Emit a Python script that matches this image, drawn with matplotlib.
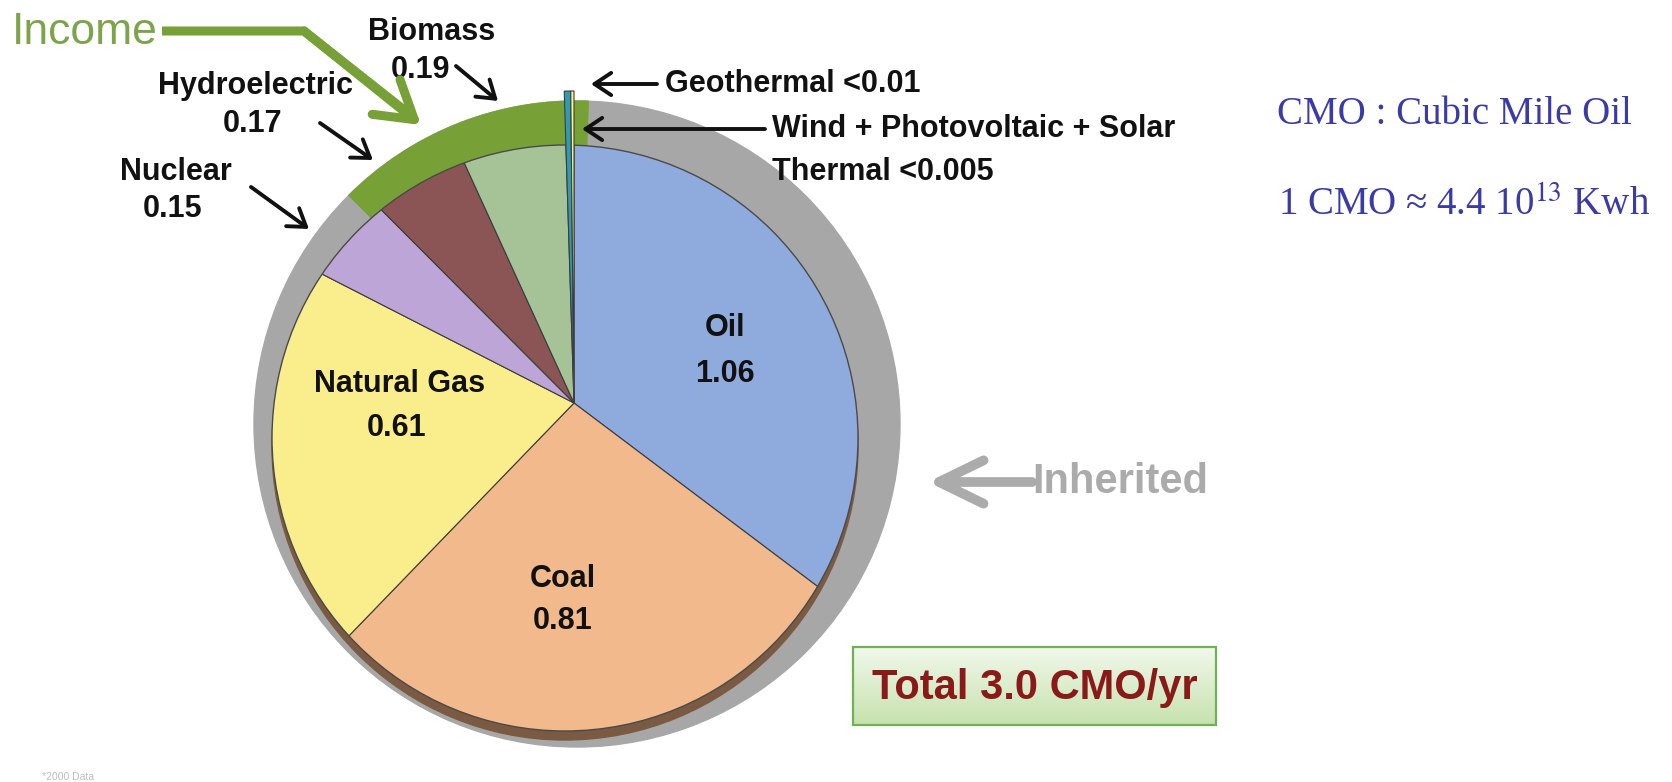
import matplotlib
matplotlib.use('Agg')
import matplotlib.pyplot as plt
from matplotlib.patches import Circle, Wedge, Rectangle
from matplotlib.colors import LinearSegmentedColormap
import numpy as np

# world primary energy, cubic miles of oil per year (2000)
sources = ['Oil', 'Coal', 'Natural Gas', 'Nuclear', 'Hydroelectric', 'Biomass',
           'Geothermal', 'Wind + Photovoltaic + Solar Thermal']
cmo = [1.06, 0.81, 0.61, 0.15, 0.17, 0.19, 0.01, 0.005]
cmo_labels = ['1.06', '0.81', '0.61', '0.15', '0.17', '0.19', '<0.01', '<0.005']
income = [False, False, False, False, True, True, True, True]
colors = ['#8faadc', '#f1b98c', '#faee8c', '#bea5d7', '#8c5555', '#a5c396',
          '#2e9bb0', '#f5f58a']

W, H = 1672, 782


def Y(y):
    return H - y


plt.rcParams['font.family'] = ['Liberation Sans', 'DejaVu Sans']
plt.rcParams['mathtext.fontset'] = 'stix'

fig = plt.figure(figsize=(W / 100, H / 100), dpi=100)
ax = fig.add_axes([0, 0, 1, 1])

# gray "inherited" ring
ring_c, ring_r = (577, Y(424)), 323
ax.add_patch(Circle(ring_c, ring_r, color='#a6a7a6', zorder=1))

# pie drawn from a vertex above the disc centre, then cut to the disc
disc_c, disc_r = (565, Y(438)), 293
vertex = (574, Y(403))
# dark lower rim giving the disc some depth
ax.add_patch(Circle((disc_c[0], disc_c[1] - 9), disc_r, color='#7a5a42', zorder=2.5))
wedges, _ = ax.pie(cmo, colors=colors, startangle=90, counterclock=False,
                   center=vertex, radius=360,
                   wedgeprops=dict(edgecolor='#3c3c3c', linewidth=0.8, zorder=3))
clip = Circle(disc_c, disc_r, transform=ax.transData)
for w in wedges[:6]:
    w.set_clip_on(True)
    w.set_clip_path(clip)
ax.add_patch(Circle(disc_c, disc_r, fill=False, edgecolor='#4a4a4a', lw=1.0, zorder=3.5))
# the tiny slivers poke out to the rim
for w in wedges[6:]:
    w.set_radius(Y(91) - vertex[1])
    w.set_zorder(4)

# green "income" arc over the renewable part
inc = [w for w, f in zip(wedges, income) if f]
t_lo = min(w.theta1 for w in inc) - 2
t_hi = max(w.theta2 for w in inc)
green = '#77a136'
ax.add_patch(Wedge(ring_c, ring_r, t_lo, t_hi, width=50, color=green, zorder=2))

bold = dict(fontsize=22, fontweight='bold', ha='center', va='center', color='#111111')

# labels inside the pie
inside = {0: ((725, 328), (725, 374)),
          1: ((563, 579), (563, 621)),
          2: ((400, 384), (397, 428))}
for i, (p1, p2) in inside.items():
    ax.text(p1[0], Y(p1[1]), sources[i], zorder=6, **bold)
    ax.text(p2[0], Y(p2[1]), cmo_labels[i], zorder=6, **bold)

# labels outside with arrows
outside = {5: ((432, 32), (421, 70), (456, 66), (498, 101)),
           4: ((255, 86), (253, 124), (320, 123), (373, 160)),
           3: ((176, 172), (173, 209), (251, 187), (309, 229))}
black_arrow = dict(arrowstyle='->,head_length=0.6,head_width=0.4', lw=2.8,
                   color='#111111', mutation_scale=20, shrinkA=0, shrinkB=0)
for i, (p1, p2, a0, a1) in outside.items():
    ax.text(p1[0], Y(p1[1]), sources[i], **bold)
    ax.text(p2[0], Y(p2[1]), cmo_labels[i], **bold)
    ax.annotate('', xy=(a1[0], Y(a1[1])), xytext=(a0[0], Y(a0[1])),
                arrowprops=black_arrow, zorder=7)

left = dict(bold, ha='left')
ax.text(665, Y(84), sources[6] + ' ' + cmo_labels[6], **left)
ax.annotate('', xy=(591, Y(84)), xytext=(657, Y(84)), arrowprops=black_arrow, zorder=7)
wind1, wind2 = sources[7].rsplit(' ', 1)
ax.text(772, Y(129), wind1, **left)
ax.text(772, Y(172), wind2 + ' ' + cmo_labels[7], **left)
ax.annotate('', xy=(582, Y(129)), xytext=(765, Y(129)), arrowprops=black_arrow, zorder=7)

# Income call-out
ax.text(12, Y(33), 'Income', fontsize=32, color='#7ea44b', ha='left', va='center')
ax.plot([162, 304, 413], [Y(31), Y(31), Y(117)], color=green, lw=6.5,
        solid_joinstyle='miter', solid_capstyle='butt', zorder=7)
ax.annotate('', xy=(421, Y(125)), xytext=(304, Y(31)),
            arrowprops=dict(arrowstyle='->,head_length=1.3,head_width=0.8', lw=6.5,
                            color=green, mutation_scale=20, shrinkA=0, shrinkB=0),
            zorder=7)

# Inherited call-out
gray = '#ababab'
ax.annotate('', xy=(928, Y(482)), xytext=(1032, Y(482)),
            arrowprops=dict(arrowstyle='->,head_length=1.6,head_width=0.78', lw=7,
                            color=gray, mutation_scale=20, shrinkA=0, shrinkB=0))
ax.text(1032, Y(482), 'Inherited', fontsize=30, fontweight='bold', color=gray,
        ha='left', va='center')

# total box
grad = np.linspace(0, 1, 64).reshape(-1, 1)
cmap = LinearSegmentedColormap.from_list('box', ['#c6e2ae', '#f1f8eb'])
ax.imshow(grad, extent=[853, 1216, Y(725), Y(647)], origin='lower', cmap=cmap,
          aspect='auto', zorder=5)
ax.add_patch(Rectangle((853, Y(725)), 1216 - 853, 725 - 647, fill=False,
                       edgecolor='#6fb255', lw=1.6, zorder=6))
ax.text(1035, Y(688), 'Total %.1f CMO/yr' % sum(cmo), fontsize=30, fontweight='bold',
        color='#8a1a1a', ha='center', va='center', zorder=7)

# definitions on the right
serif = ['Liberation Serif', 'DejaVu Serif']
ax.text(1277, Y(114), 'CMO : Cubic Mile Oil', fontsize=28, family=serif,
        color='#3b3ba8', ha='left', va='center')
ax.text(1278, Y(206), '1 CMO \u2248 4.4 10$^{13}$ Kwh', fontsize=28, family=serif,
        color='#3b3ba8', ha='left', va='center')

ax.text(42, Y(777), '*2000 Data', fontsize=7.5, color='#bdbdbd', ha='left', va='center')

ax.set_xlim(0, W)
ax.set_ylim(0, H)
ax.set_aspect('auto')
ax.axis('off')

fig.savefig('out.png', dpi=100, facecolor='white')
